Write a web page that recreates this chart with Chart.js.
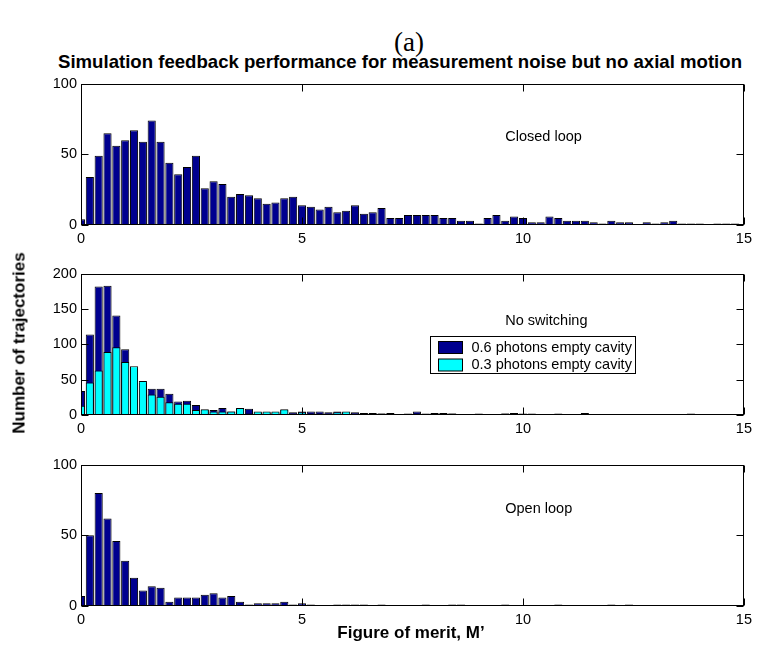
<!DOCTYPE html>
<html>
<head>
<meta charset="utf-8">
<title>Feedback histograms</title>
<script src="https://cdn.jsdelivr.net/npm/chart.js@4.4.1/dist/chart.umd.min.js"></script>
<style>
  html, body { margin: 0; padding: 0; background: #fff; }
  #fig { position: relative; width: 757px; height: 652px; overflow: hidden; font-family: "Liberation Sans", Arial, sans-serif; color: #000; }
  #fig canvas { position: absolute; left: 0; }
  .lbl { position: absolute; white-space: nowrap; transform: translate(-50%, -50%); line-height: 1; }
  #panelTag { left: 409px; top: 42px; font: 27px "Liberation Serif", "DejaVu Serif", serif; }
  #title { left: 400px; top: 62px; font-weight: bold; font-size: 18.6px; }
  #xlabel { left: 411px; top: 632px; font-weight: bold; font-size: 17px; }
  #ylabel { left: 19px; top: 343px; font-weight: bold; font-size: 17px; transform: translate(-50%, -50%) rotate(-90deg); }
</style>
</head>
<body>
<div id="fig">
  <div class="lbl" id="panelTag">(a)</div>
  <div class="lbl" id="title">Simulation feedback performance for measurement noise but no axial motion</div>
  <canvas id="chart-closed" width="757" height="184" style="top:71px"></canvas>
  <canvas id="chart-noswitch" width="757" height="184" style="top:261px"></canvas>
  <canvas id="chart-open" width="757" height="184" style="top:452px"></canvas>
  <div class="lbl" id="ylabel">Number of trajectories</div>
  <div class="lbl" id="xlabel">Figure of merit, M’</div>
</div>
<script>
// Histogram bin centres (figure of merit M')
const binCenters = [
  0, 0.2, 0.4, 0.6, 0.8, 1, 1.2, 1.4, 1.6, 1.8,
  2, 2.2, 2.4, 2.6, 2.8, 3, 3.2, 3.4, 3.6, 3.8,
  4, 4.2, 4.4, 4.6, 4.8, 5, 5.2, 5.4, 5.6, 5.8,
  6, 6.2, 6.4, 6.6, 6.8, 7, 7.2, 7.4, 7.6, 7.8,
  8, 8.2, 8.4, 8.6, 8.8, 9, 9.2, 9.4, 9.6, 9.8,
  10, 10.2, 10.4, 10.6, 10.8, 11, 11.2, 11.4, 11.6, 11.8,
  12, 12.2, 12.4, 12.6, 12.8, 13, 13.2, 13.4, 13.6, 13.8,
  14, 14.2, 14.4, 14.6, 14.8, 15
];

// Counts
const closedLoop = [
  4, 34, 49, 65, 56, 60, 67, 59, 74, 59,
  44, 36, 41, 49, 26, 31, 29, 20, 22, 21,
  19, 15, 16, 19, 20, 14, 13, 11, 13, 9,
  10, 14, 8, 9, 12, 5, 5, 7, 7, 7,
  7, 5, 5, 3, 3, 1, 5, 7, 3, 6,
  5, 2, 2, 6, 5, 3, 3, 3, 2, 1,
  3, 2, 2, 0, 2, 1, 2, 3, 1, 1,
  1, 0, 1, 1, 1, 0
];
const noSwitch06 = [
  34, 114, 182, 183, 141, 93, 66, 46, 37, 37,
  30, 19, 20, 14, 7, 7, 10, 5, 9, 9,
  4, 4, 4, 7, 4, 5, 5, 5, 4, 5,
  4, 4, 3, 3, 2, 3, 1, 1, 5, 1,
  2, 2, 2, 1, 1, 2, 1, 1, 2, 3,
  1, 2, 1, 1, 2, 1, 1, 3, 1, 1,
  1, 1, 1, 1, 1, 1, 1, 1, 1, 2,
  1, 1, 1, 1, 1, 0
];
const noSwitch03 = [
  13, 46, 63, 89, 96, 75, 69, 48, 29, 26,
  18, 16, 16, 7, 8, 5, 5, 5, 10, 2,
  5, 5, 5, 8, 2, 4, 2, 2, 2, 4,
  5, 2, 2, 1, 2, 1, 1, 2, 2, 2,
  3, 3, 2, 1, 1, 1, 1, 1, 2, 3,
  2, 1, 1, 1, 1, 1, 1, 1, 1, 1,
  1, 1, 1, 1, 1, 1, 1, 1, 1, 1,
  1, 1, 1, 1, 1, 0
];
const openLoop = [
  7, 50, 80, 62, 46, 32, 20, 11, 14, 13,
  3, 6, 6, 6, 8, 9, 6, 7, 3, 1,
  2, 2, 2, 3, 1, 2, 1, 0, 0, 1,
  1, 1, 1, 0, 1, 0, 0, 0, 0, 1,
  0, 0, 1, 1, 0, 0, 0, 0, 1, 0,
  0, 0, 0, 0, 1, 0, 0, 0, 0, 0,
  1, 0, 1, 0, 0, 0, 0, 0, 0, 0,
  0, 0, 0, 0, 0, 0
];

const seriesNames = ['0.6 photons empty cavity', '0.3 photons empty cavity'];
const panelNotes = ['Closed loop', 'No switching', 'Open loop'];
const noteX = 9.6;               // data x where the notes start
const noteY = [62, 133, 69];     // data y of each note

const NAVY = '#00008f';
const CYAN = '#00ffff';
const TICK_LEN = 7;
const tickFont = { family: '"Liberation Sans", Arial, sans-serif', size: 14.5 };

// empty bins are left out so no flat bar is drawn on the axis
function points(values) {
    return binCenters.map((x, i) => ({ x: x, y: values[i] === 0 ? null : values[i] }));
}

// box, inward ticks, panel note and the in-axes legend
const framePlugin = {
    id: 'frame',
    afterDatasetsDraw(chart, args, opts) {
        const { ctx, chartArea: a } = chart;
        const xs = chart.scales.x, ys = chart.scales.y;
        const L = Math.round(a.left) + 0.5, R = Math.round(a.right) - 0.5;
        const T = Math.round(a.top) + 0.5, B = Math.round(a.bottom) - 0.5;
        ctx.save();
        ctx.strokeStyle = '#000';
        ctx.lineWidth = 1;
        ctx.beginPath();
        xs.ticks.forEach(t => {
            const px = Math.round(xs.getPixelForValue(t.value)) + 0.5;
            ctx.moveTo(px, B); ctx.lineTo(px, B - TICK_LEN);
            ctx.moveTo(px, T); ctx.lineTo(px, T + TICK_LEN);
        });
        ys.ticks.forEach(t => {
            const py = Math.round(ys.getPixelForValue(t.value)) + 0.5;
            ctx.moveTo(L, py); ctx.lineTo(L + TICK_LEN, py);
            ctx.moveTo(R, py); ctx.lineTo(R - TICK_LEN, py);
        });
        ctx.stroke();
        ctx.strokeRect(L, T, R - L, B - T);

        ctx.fillStyle = '#000';
        ctx.font = '14.5px "Liberation Sans", Arial, sans-serif';
        ctx.textAlign = 'left';
        ctx.textBaseline = 'middle';
        ctx.fillText(opts.note, xs.getPixelForValue(noteX), ys.getPixelForValue(opts.noteY));

        if (opts.showLegend) {
            const bx = Math.round(a.left) + 349.5, by = Math.round(a.top) + 62.5;
            ctx.fillStyle = '#fff';
            ctx.fillRect(bx, by, 205, 37);
            ctx.strokeRect(bx, by, 205, 37);
            chart.data.datasets.forEach((ds, i) => {
                const cy = by + 11 + i * 17.5;
                ctx.fillStyle = ds.backgroundColor;
                ctx.fillRect(bx + 8, cy - 6, 24, 12);
                ctx.strokeRect(bx + 8, cy - 6, 24, 12);
                ctx.fillStyle = '#000';
                ctx.fillText(ds.label, bx + 41, cy);
            });
        }
        ctx.restore();
    }
};

function makePanel(canvasId, datasets, yMax, yStep, idx, showLegend) {
    return new Chart(document.getElementById(canvasId), {
        type: 'bar',
        data: { datasets: datasets },
        options: {
            responsive: false,
            animation: false,
            layout: { padding: { left: 0, right: 11, top: 10, bottom: 0 } },
            scales: {
                x: {
                    type: 'linear', min: 0, max: 15, offset: false,
                    grid: { display: false, drawTicks: false, offset: false },
                    border: { display: false },
                    ticks: { stepSize: 5, padding: 5, color: '#000', font: tickFont, maxRotation: 0 },
                    afterFit: s => { s.height = 30; }
                },
                y: {
                    min: 0, max: yMax,
                    grid: { display: false, drawTicks: false },
                    border: { display: false },
                    ticks: { stepSize: yStep, padding: 4, color: '#000', font: tickFont },
                    afterFit: s => { s.width = 81; }
                }
            },
            plugins: {
                legend: { display: false },
                tooltip: { enabled: false },
                frame: { note: panelNotes[idx], noteY: noteY[idx], showLegend: showLegend }
            }
        },
        plugins: [framePlugin]
    });
}

function barSet(label, values, color, order) {
    return {
        label: label,
        data: points(values),
        backgroundColor: color,
        borderColor: '#000',
        borderWidth: 1,
        barPercentage: 1,
        categoryPercentage: 0.92,
        grouped: false,
        clip: 0,
        order: order
    };
}

makePanel('chart-closed', [barSet('Closed loop', closedLoop, NAVY, 0)], 100, 50, 0, false);
// cyan drawn over navy (lower order is drawn last)
makePanel('chart-noswitch', [
    barSet(seriesNames[0], noSwitch06, NAVY, 1),
    barSet(seriesNames[1], noSwitch03, CYAN, 0)
], 200, 50, 1, true);
makePanel('chart-open', [barSet('Open loop', openLoop, NAVY, 0)], 100, 50, 2, false);
</script>
</body>
</html>
